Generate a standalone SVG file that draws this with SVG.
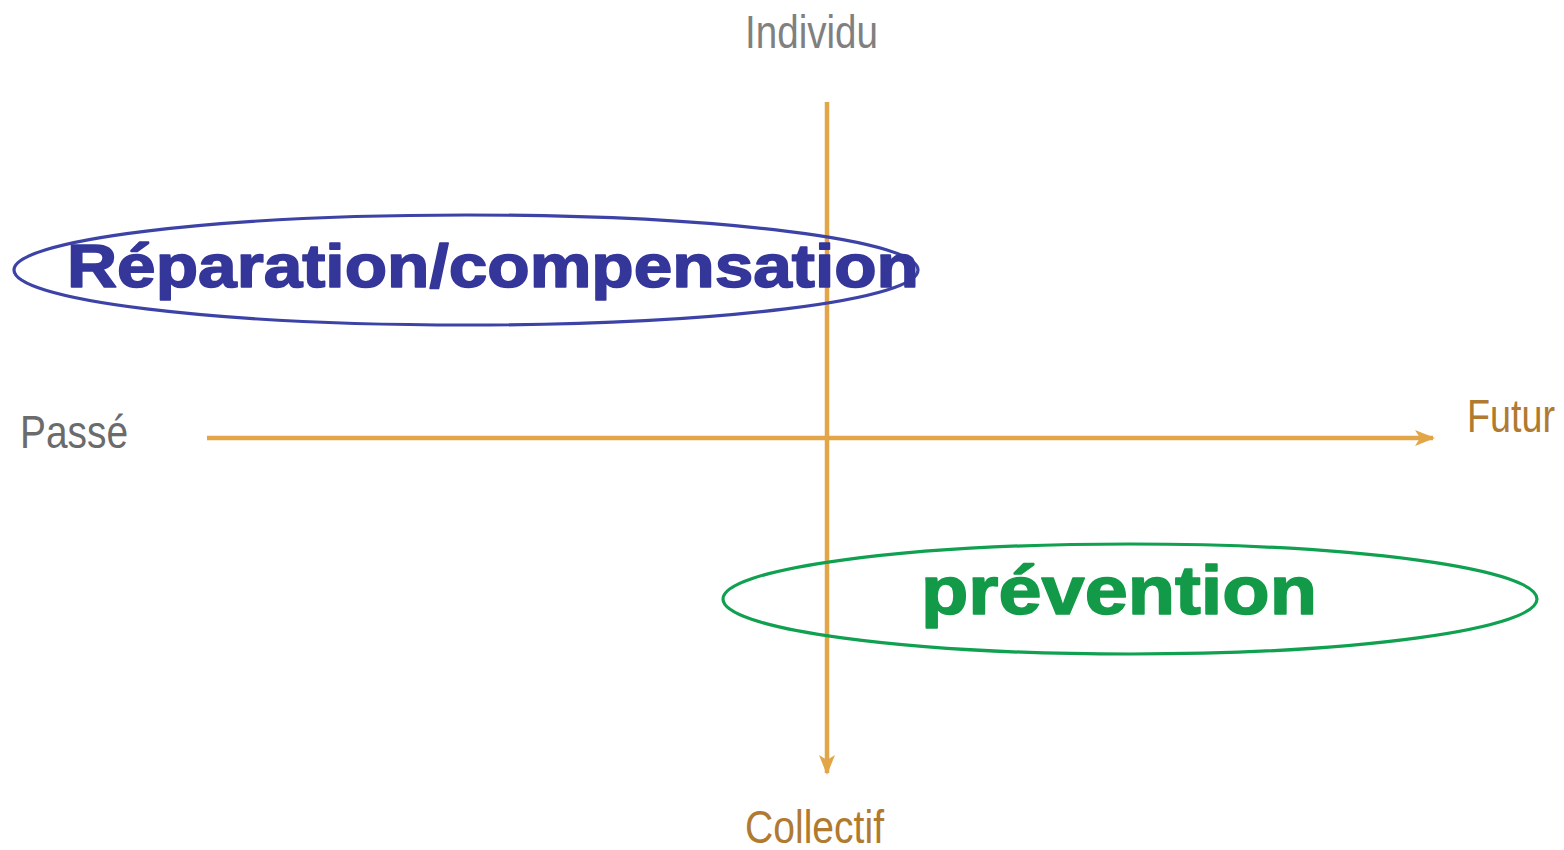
<svg xmlns="http://www.w3.org/2000/svg" width="1564" height="850" viewBox="0 0 1564 850">
<style>
.axis{stroke:#E2A548;stroke-width:4.5;fill:none}
.lbl{font-family:"Liberation Sans",Arial,sans-serif;font-size:46px}
.big{font-family:"Liberation Sans",Arial,sans-serif;font-weight:bold;stroke-width:1.6;stroke-linejoin:round}
</style>
<defs>
<marker id="ah" viewBox="0 0 20 16" refX="18" refY="8" markerWidth="20" markerHeight="16" markerUnits="userSpaceOnUse" orient="auto">
<path d="M0,0 L20,8 L0,16 L5,8 Z" fill="#E2A548"/>
</marker>
</defs>
<rect width="1564" height="850" fill="#fff"/>
<g id="connectors">
<line class="axis" x1="207" y1="438" x2="1433" y2="438" marker-end="url(#ah)"/>
<line class="axis" x1="827" y1="102" x2="827" y2="773" marker-end="url(#ah)"/>
</g>
<g id="individu"><text class="lbl" x="745" y="48" fill="#808080" textLength="133" lengthAdjust="spacingAndGlyphs">Individu</text></g>
<g id="passe"><text class="lbl" x="20" y="448" fill="#6b6b6b" textLength="108" lengthAdjust="spacingAndGlyphs">Passé</text></g>
<g id="futur"><text class="lbl" transform="translate(1467,432) scale(0.82,1)" x="0" y="0" fill="#B07A30">Futur</text></g>
<g id="collectif"><text class="lbl" x="745" y="843" fill="#B07A30" textLength="139" lengthAdjust="spacingAndGlyphs">Collectif</text></g>
<g id="reparation">
<ellipse cx="466" cy="270" rx="452" ry="55" fill="none" stroke="#3D43A6" stroke-width="3.2"/>
<text class="big" x="67" y="287" font-size="62" fill="#35369A" stroke="#35369A" textLength="852" lengthAdjust="spacingAndGlyphs">Réparation/compensation</text>
</g>
<g id="prevention">
<ellipse cx="1130" cy="599" rx="407" ry="55" fill="none" stroke="#0FA050" stroke-width="3.2"/>
<text class="big" x="921" y="614" font-size="69" fill="#139A48" stroke="#139A48" textLength="396" lengthAdjust="spacingAndGlyphs">prévention</text>
</g>
</svg>
